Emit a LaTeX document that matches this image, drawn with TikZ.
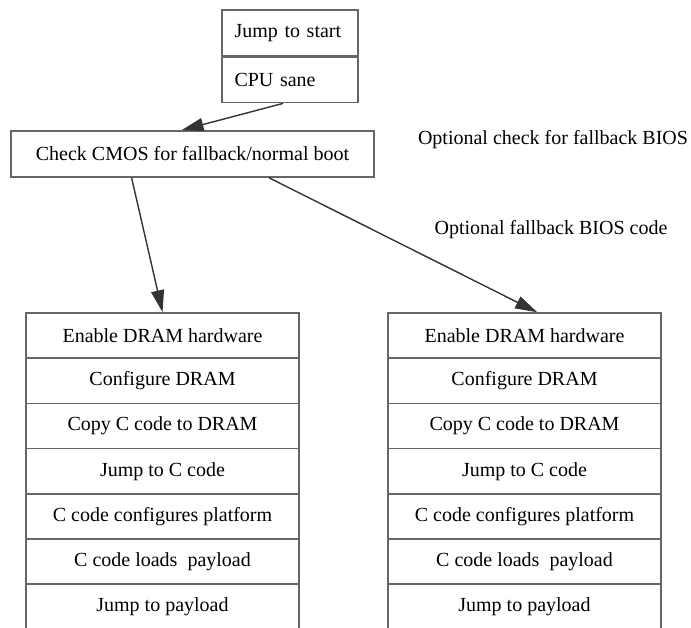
\documentclass[tikz,border=0pt]{standalone}
\usepackage{fontspec}
\setmainfont{Liberation Serif}
\usetikzlibrary{positioning,arrows.meta,calc}

\begin{document}
\begin{tikzpicture}[x=1pt, y=-1pt,
    every node/.style={font=\fontsize{20}{24}\selectfont},
    part/.style={draw=black!60, line width=1.6pt, minimum height=45.5pt, text width=111pt, inner xsep=12.5pt, inner ysep=0pt, align=left},
    stage/.style={draw=black!60, line width=1.6pt, minimum width=273pt, minimum height=45.2pt, inner sep=0pt},
    link/.style={draw=black!80, line width=1.4pt, -{Triangle[length=22pt,width=13pt]}}]
  \useasboundingbox (0,0) rectangle (691,627);
  % Start record
  \node[part] (jump) at (290,32.7) {Jump to start};
  \node[part, below=0pt of jump] (cpu) {CPU sane};
  \node[stage, minimum width=363pt, minimum height=46pt] (cmos) at (192.5,154) {Check CMOS for fallback/normal boot};
  \node (checknote) at (553,140) {Optional check for fallback BIOS};
  \node (codenote) at (551,230) {Optional fallback BIOS code};
  % Two boot stacks, normal (l) and fallback (r)
  \foreach \col/\cx in {l/162.5, r/524.5} {
    \foreach \txt [count=\i] in {Enable DRAM hardware, Configure DRAM, Copy C code to DRAM, Jump to C code, C code configures platform, C code loads~ payload, Jump to payload} {
      \node[stage] (\col\i) at (\cx, 290.4+45.2*\i) {\txt};
    }
  }
  % Connections
  \draw[link] ($(cpu.south west)!0.45!(cpu.south east)$) -- ($(cmos.north west)!0.47!(cmos.north east)$);
  \draw[link] ($(cmos.south west)!0.333!(cmos.south east)$) -- (l1.north);
  \draw[link] ($(cmos.south west)!0.71!(cmos.south east)$) -- ($(r1.north west)!0.546!(r1.north east)$);
\end{tikzpicture}
\end{document}
